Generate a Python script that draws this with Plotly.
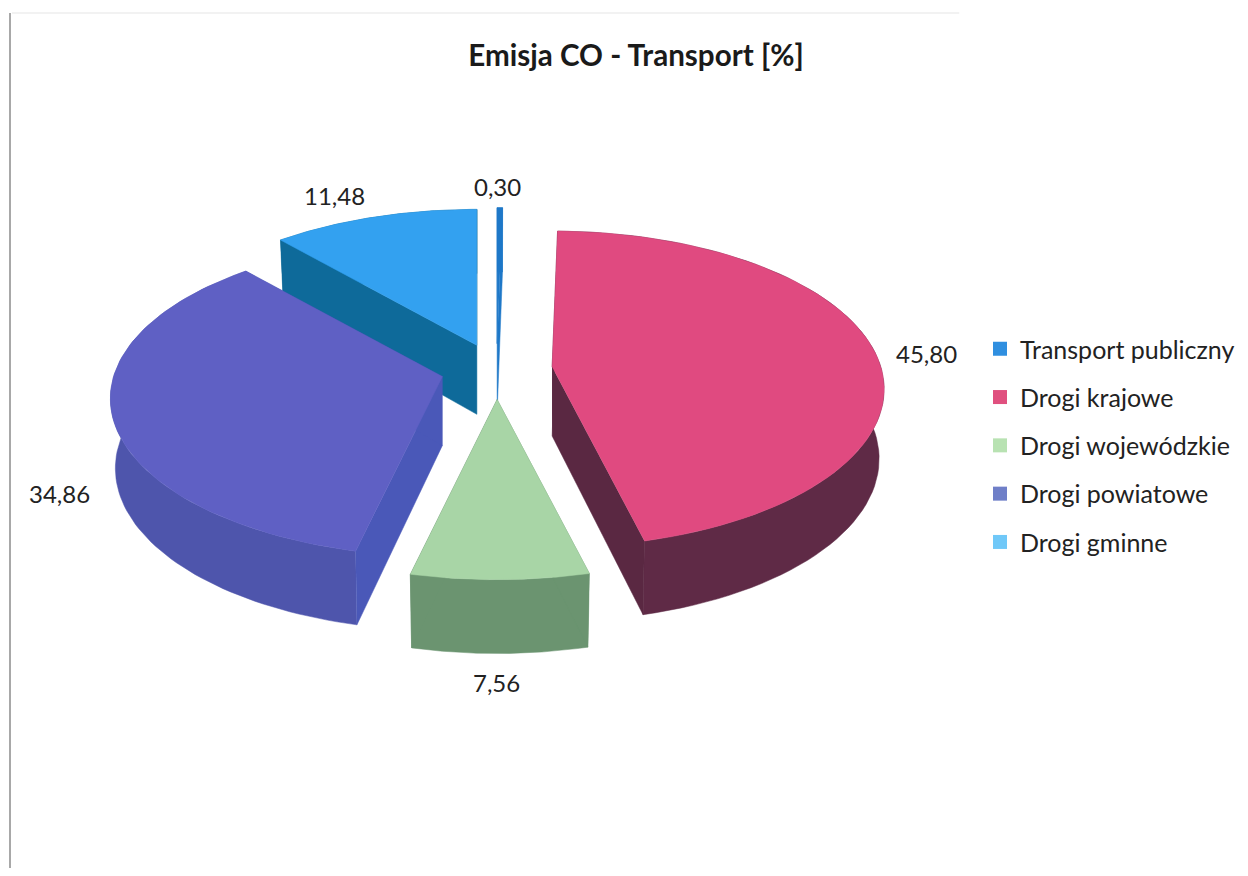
import numpy as np
import plotly.graph_objects as go

TITLE = "Emisja CO - Transport [%]"
CATEGORIES = ["Transport publiczny", "Drogi krajowe", "Drogi wojewódzkie", "Drogi powiatowe", "Drogi gminne"]
VALUES = [0.30, 45.80, 7.56, 34.86, 11.48]

TOP_COLORS = ["#1E78C8", "#E04A80", "#A8D5A6", "#5F60C4", "#33A1F0"]
ARC_COLORS = ["#1E78C8", "#5F2A46", "#6B9470", "#4E55AC", "#0E6A9A"]
WALL_COLORS = ["#1E78C8", "#5A2842", "#6B9470", "#4A58B8", "#0E6A9A"]
LEGEND_COLORS = ["#2F8FE0", "#E0507F", "#B8E2B2", "#6F7FC8", "#70C8F8"]

# view parameters of the exploded, tilted pie
CX, CY, RX, RY, PERSP, DEPTH, NARROW = 497, 370, 329, 155, 0.14, 69, 0.985
EXPLODE = [0.17, 0.17, 0.19, 0.17, 0.17]
DRAW_ORDER = [4, 0, 3, 1, 2]
LABEL_XY = [(498, 186), (927, 353), (497, 682), (60, 493), (335, 195)]
PAGE_MARGIN = 8  # the page body offsets the plot by this many pixels


def project(theta, r=1.0):
    dx, dy = r * np.sin(theta), -r * np.cos(theta)
    s = 1 / (1 - PERSP * dy)
    return RX * dx * s, RY * dy * s, dy


def poly(fig, xs, ys, color):
    fig.add_trace(go.Scatter(x=list(xs), y=list(ys), mode="lines", fill="toself", fillcolor=color,
                             line=dict(color=color, width=0.5), hoverinfo="skip", showlegend=False))


fig = go.Figure()
edges = np.cumsum([0] + VALUES) / sum(VALUES) * 2 * np.pi

for i in DRAW_ORDER:
    t1, t2 = edges[i], edges[i + 1]
    tm = (t1 + t2) / 2
    ax = CX + EXPLODE[i] * RX * np.sin(tm)
    ay = CY - EXPLODE[i] * RY * np.cos(tm)
    th = np.linspace(t1, t2, 80)
    px, py, pd = project(th)
    d = DEPTH * (1 + 0.07 * pd)
    bx, by = px * NARROW, py + d
    poly(fig, np.r_[ax + px, (ax + bx)[::-1]], np.r_[ay + py, (ay + by)[::-1]], ARC_COLORS[i])
    for k in (0, -1):
        poly(fig, [ax, ax + px[k], ax + bx[k], ax], [ay, ay + py[k], ay + by[k], ay + DEPTH], WALL_COLORS[i])
    poly(fig, np.r_[ax, ax + px], np.r_[ay, ay + py], TOP_COLORS[i])

for name, col in zip(CATEGORIES, LEGEND_COLORS):
    fig.add_trace(go.Scatter(x=[None], y=[None], mode="markers", name=name, legendgroup=name,
                             marker=dict(symbol="square", size=14, color=col)))

for v, (lx, ly) in zip(VALUES, LABEL_XY):
    fig.add_annotation(x=lx, y=ly, text=f"{v:.2f}".replace(".", ","), showarrow=False,
                       font=dict(family="Lato", size=24, color="#222222"))

fig.add_shape(type="line", x0=10, x1=10, y0=13, y1=868, line=dict(color="#a8a8a8", width=2))
fig.add_shape(type="line", x0=12, x1=960, y0=13, y1=13, line=dict(color="#eeeeee", width=1.5))

W, H = 1248 - 2 * PAGE_MARGIN, 876 - 2 * PAGE_MARGIN
fig.update_layout(
    width=W, height=H, margin=dict(l=0, r=0, t=0, b=0),
    paper_bgcolor="white", plot_bgcolor="white",
    title=dict(text=f"<b>{TITLE}</b>", x=(636 - PAGE_MARGIN) / W, xanchor="center",
               y=1 - (56 - PAGE_MARGIN) / H, yanchor="middle",
               font=dict(family="Lato", size=29.6, color="#1a1a1a")),
    xaxis=dict(range=[PAGE_MARGIN, PAGE_MARGIN + W], visible=False, fixedrange=True),
    yaxis=dict(range=[PAGE_MARGIN + H, PAGE_MARGIN], visible=False, fixedrange=True),
    legend=dict(x=(981 - PAGE_MARGIN) / W, y=1 - (326 - PAGE_MARGIN) / H, xanchor="left", yanchor="top",
                tracegroupgap=12.8,
                font=dict(family="Lato", size=25, color="#222222"), itemwidth=30, bgcolor="rgba(0,0,0,0)"),
)
fig.write_html("out.html")
